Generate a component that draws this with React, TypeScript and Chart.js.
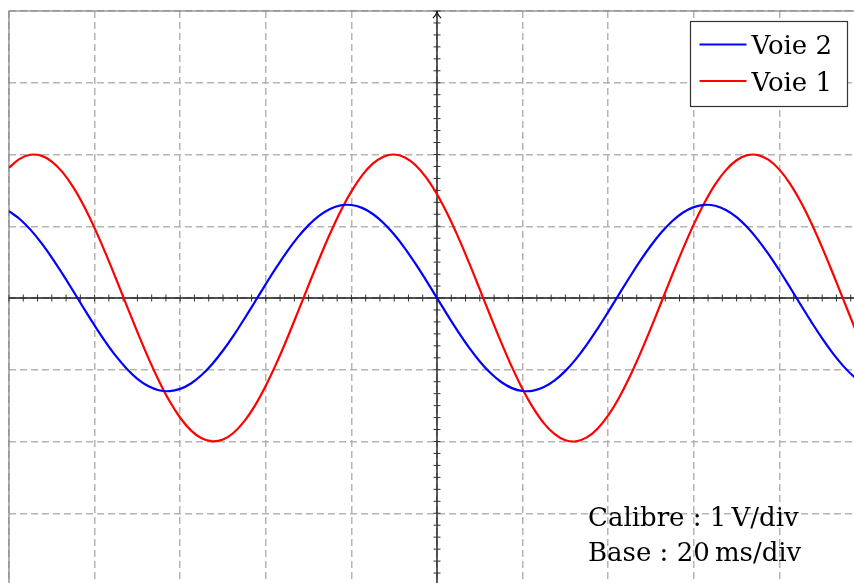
import React, { useEffect, useRef } from "react";
import { Chart, registerables } from "chart.js";

Chart.register(...registerables);

// time in ms (20 ms / div), voltage in V (1 V / div)
const timesMs = [
  -100, -97.5, -95, -92.5, -90, -87.5, -85, -82.5, -80, -77.5, -75, -72.5, -70, -67.5, -65, -62.5, -60, -57.5, -55, -52.5,
  -50, -47.5, -45, -42.5, -40, -37.5, -35, -32.5, -30, -27.5, -25, -22.5, -20, -17.5, -15, -12.5, -10, -7.5, -5, -2.5,
  0, 2.5, 5, 7.5, 10, 12.5, 15, 17.5, 20, 22.5, 25, 27.5, 30, 32.5, 35, 37.5, 40, 42.5, 45, 47.5,
  50, 52.5, 55, 57.5, 60, 62.5, 65, 67.5, 70, 72.5, 75, 77.5, 80, 82.5, 85, 87.5, 90, 92.5, 95, 97.5, 100,
];
const voie2 = [
  1.21, 1.101, 0.953, 0.772, 0.564, 0.336, 0.097, -0.146, -0.383, -0.607, -0.811, -0.985, -1.126, -1.227, -1.285, -1.299, -1.267, -1.192, -1.074, -0.919,
  -0.732, -0.52, -0.289, -0.049, 0.194, 0.429, 0.65, 0.848, 1.016, 1.149, 1.242, 1.292, 1.296, 1.256, 1.171, 1.046, 0.884, 0.692, 0.475, 0.242,
  0, -0.242, -0.475, -0.692, -0.884, -1.046, -1.171, -1.256, -1.296, -1.292, -1.242, -1.149, -1.016, -0.848, -0.65, -0.429, -0.194, 0.049, 0.289, 0.52,
  0.732, 0.919, 1.074, 1.192, 1.267, 1.299, 1.285, 1.227, 1.126, 0.985, 0.811, 0.607, 0.383, 0.146, -0.097, -0.336, -0.564, -0.772, -0.953, -1.101, -1.21,
];
const voie1 = [
  1.815, 1.939, 1.996, 1.984, 1.902, 1.754, 1.545, 1.282, 0.974, 0.632, 0.268, -0.105, -0.474, -0.827, -1.151, -1.436, -1.669, -1.845, -1.956, -1.999,
  -1.973, -1.878, -1.717, -1.496, -1.223, -0.908, -0.561, -0.194, 0.179, 0.547, 0.895, 1.212, 1.486, 1.709, 1.872, 1.97, 2.0, 1.959, 1.851, 1.677,
  1.445, 1.163, 0.841, 0.489, 0.12, -0.254, -0.618, -0.961, -1.271, -1.535, -1.747, -1.897, -1.982, -1.997, -1.943, -1.821, -1.636, -1.393, -1.102, -0.772,
  -0.416, -0.045, 0.328, 0.689, 1.026, 1.327, 1.583, 1.782, 1.92, 1.991, 1.992, 1.924, 1.789, 1.591, 1.338, 1.039, 0.703, 0.342, -0.03, -0.401, -0.759,
];
const seriesNames = ["Voie 2", "Voie 1"];
const seriesColors = ["#0000ff", "#ff0000"];
const infoLines = ["Calibre : 1\u2009V/div", "Base : 20\u2009ms/div"];

const X_MIN = -100, X_MAX = 100, X_DIV = 20;
const Y_MIN = -4, Y_MAX = 4, Y_DIV = 1;
const MINOR_PER_DIV = 6;

const scopePlugin = {
  id: "scope",
  beforeDatasetsDraw(chart: any) {
    const { ctx, chartArea: a, scales } = chart;
    const xs = scales.x, ys = scales.y;
    const x0 = xs.getPixelForValue(0);
    const y0 = ys.getPixelForValue(0);
    ctx.save();
    ctx.setLineDash([]);
    ctx.strokeStyle = "#8a8a8a";
    ctx.lineWidth = 1.3;
    ctx.strokeRect(a.left, a.top, a.width, a.height);
    ctx.strokeStyle = "#1a1a1a";
    ctx.lineWidth = 1.4;
    ctx.beginPath();
    ctx.moveTo(a.left, y0);
    ctx.lineTo(a.right, y0);
    ctx.moveTo(x0, a.bottom);
    ctx.lineTo(x0, a.top);
    ctx.stroke();
    ctx.lineWidth = 1;
    ctx.strokeStyle = "#333333";
    ctx.beginPath();
    const nx = ((X_MAX - X_MIN) / X_DIV) * MINOR_PER_DIV;
    for (let i = 0; i <= nx; i++) {
      const v = X_MIN + (i * X_DIV) / MINOR_PER_DIV;
      const px = xs.getPixelForValue(v);
      ctx.moveTo(px, y0 - 3.5);
      ctx.lineTo(px, y0 + 3.5);
    }
    const ny = ((Y_MAX - Y_MIN) / Y_DIV) * MINOR_PER_DIV;
    for (let i = 0; i <= ny; i++) {
      const v = Y_MIN + (i * Y_DIV) / MINOR_PER_DIV;
      const py = ys.getPixelForValue(v);
      ctx.moveTo(x0 - 3.5, py);
      ctx.lineTo(x0 + 3.5, py);
    }
    ctx.stroke();
    // arrows
    ctx.strokeStyle = "#1a1a1a";
    ctx.lineWidth = 1.2;
    ctx.beginPath();
    ctx.moveTo(x0 - 4, a.top + 7);
    ctx.quadraticCurveTo(x0, a.top + 3, x0, a.top);
    ctx.quadraticCurveTo(x0, a.top + 3, x0 + 4, a.top + 7);
    ctx.moveTo(a.right - 7, y0 - 4);
    ctx.quadraticCurveTo(a.right - 3, y0, a.right, y0);
    ctx.quadraticCurveTo(a.right - 3, y0, a.right - 7, y0 + 4);
    ctx.stroke();
    ctx.restore();
  },
  afterDraw(chart: any) {
    const { ctx, chartArea: a } = chart;
    ctx.save();
    ctx.setLineDash([]);
    // legend box
    const bx = a.left + 681.5, by = a.top + 10.5, bw = 157, bh = 85;
    ctx.fillStyle = "#ffffff";
    ctx.fillRect(bx, by, bw, bh);
    ctx.strokeStyle = "#333333";
    ctx.lineWidth = 1.2;
    ctx.strokeRect(bx, by, bw, bh);
    ctx.font = '26px "DejaVu Serif"';
    ctx.textBaseline = "alphabetic";
    ctx.textAlign = "left";
    const rows = [
      { ly: 33.5, ty: 43 },
      { ly: 70, ty: 79.7 },
    ];
    seriesNames.forEach((name, i) => {
      ctx.strokeStyle = seriesColors[i];
      ctx.lineWidth = 2.2;
      ctx.beginPath();
      ctx.moveTo(bx + 9, a.top + rows[i].ly);
      ctx.lineTo(bx + 56, a.top + rows[i].ly);
      ctx.stroke();
      ctx.fillStyle = "#000000";
      ctx.fillText(name, bx + 61, a.top + rows[i].ty);
    });
    // info text
    ctx.font = '26px "DejaVu Serif"';
    ctx.fillStyle = "#000000";
    ctx.fillText(infoLines[0], a.left + 579, a.top + 514.7);
    ctx.fillText(infoLines[1], a.left + 579, a.top + 550);
    ctx.restore();
  },
};

export default function App() {
  const ref = useRef<HTMLCanvasElement | null>(null);
  useEffect(() => {
    if (!ref.current) return;
    const chart = new Chart(ref.current, {
      type: "line",
      data: {
        datasets: [
          {
            label: seriesNames[0],
            data: timesMs.map((t, i) => ({ x: t, y: voie2[i] })),
            borderColor: seriesColors[0],
            borderWidth: 2.2,
            pointRadius: 0,
            tension: 0.4,
            fill: false,
          },
          {
            label: seriesNames[1],
            data: timesMs.map((t, i) => ({ x: t, y: voie1[i] })),
            borderColor: seriesColors[1],
            borderWidth: 2.2,
            pointRadius: 0,
            tension: 0.4,
            fill: false,
          },
        ],
      },
      options: {
        animation: false,
        responsive: false,
        events: [],
        layout: { padding: { left: 1, top: 3, right: 3, bottom: 3 } },
        plugins: { legend: { display: false }, tooltip: { enabled: false } },
        scales: {
          x: {
            type: "linear",
            min: X_MIN,
            max: X_MAX,
            ticks: { stepSize: X_DIV, display: false },
            grid: { color: "#b4b4b4", lineWidth: 1.5, drawTicks: false },
            border: { display: false, dash: [7, 4] },
          },
          y: {
            type: "linear",
            min: Y_MIN,
            max: Y_MAX,
            ticks: { stepSize: Y_DIV, display: false },
            grid: { color: "#b4b4b4", lineWidth: 1.5, drawTicks: false },
            border: { display: false, dash: [7, 4] },
          },
        },
      },
      plugins: [scopePlugin],
    });
    return () => chart.destroy();
  }, []);
  return (
    <div style={{ position: "fixed", left: 8, top: 8, width: 846, height: 575, overflow: "hidden" }}>
      <canvas ref={ref} width={860} height={580} style={{ display: "block" }} />
    </div>
  );
}
